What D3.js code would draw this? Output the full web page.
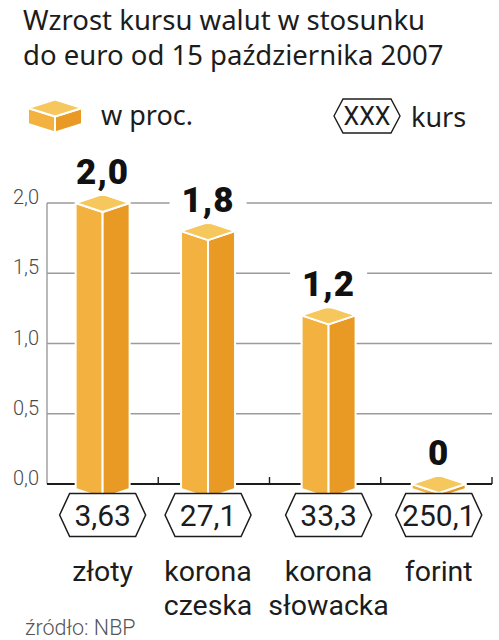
<!DOCTYPE html>
<html>
<head>
<meta charset="utf-8">
<script src="https://cdn.jsdelivr.net/npm/d3@7"></script>
<style>
  html, body { margin: 0; padding: 0; background: #fff; }
  svg { display: block; }
</style>
</head>
<body>
<svg width="499" height="640"></svg>
<script>
// data
const categories = ['złoty', 'korona czeska', 'korona słowacka', 'forint'];
const changes = [2.0, 1.8, 1.2, 0];          // wzrost w proc.
const rates = [3.63, 27.1, 33.3, 250.1];     // kurs do euro
const yTicks = [0, 0.5, 1.0, 1.5, 2.0];
const titleLines = ['Wzrost kursu walut w stosunku', 'do euro od 15 października 2007'];
const source = 'źródło: NBP';

const TOP_COLOR = '#f6c75c';
const LEFT_COLOR = '#f3b23f';
const RIGHT_COLOR = '#e99a25';
const GRID_COLOR = '#9b9b9b';
const INK = '#1c1c1c';
const SANS = "'Noto Sans', 'Open Sans', sans-serif";
const NUM = "Roboto, 'Liberation Sans', sans-serif";

const BAR_HALF = 27;
const FACE_HALF_H = 9;
const LABEL_SIZE = 28.5;
const LABEL_LEAD = 33.5;
const LABEL_GAP = 16;

const svg = d3.select('svg');

const x = d3.scaleBand()
  .domain(categories)
  .range([47, 492])
  .padding(0);

const y = d3.scaleLinear()
  .domain([0, 2])
  .range([484, 203]);

const comma = v => String(v).replace('.', ',');
const fmtChange = v => v === 0 ? '0' : d3.format('.1f')(v).replace('.', ',');

// measure category names, then nudge columns apart so names don't collide
const probe = svg.append('text')
  .attr('font-family', NUM).attr('font-size', LABEL_SIZE);
const nameWidth = categories.map(c => d3.max(c.split(' '), w => {
  probe.text(w);
  return probe.node().getComputedTextLength();
}));
probe.remove();

const centers = categories.map(c => x(c) + x.bandwidth() / 2);
for (let k = 0; k < 60; k++) {
  for (let i = 0; i < centers.length - 1; i++) {
    const gap = (centers[i + 1] - nameWidth[i + 1] / 2) - (centers[i] + nameWidth[i] / 2);
    if (gap < LABEL_GAP) {
      const d = (LABEL_GAP - gap) / 2;
      centers[i] -= d;
      centers[i + 1] += d;
    }
  }
}
const cx = c => centers[categories.indexOf(c)];

// iso box: top face centred at yTop, front faces down to yBot
function drawBox(g, c, yTop, yBot, hw, hh) {
  const faces = [
    { fill: LEFT_COLOR, pts: [[c - hw, yTop], [c, yTop + hh], [c, yBot + hh], [c - hw, yBot]] },
    { fill: RIGHT_COLOR, pts: [[c + hw, yTop], [c, yTop + hh], [c, yBot + hh], [c + hw, yBot]] },
    { fill: TOP_COLOR, pts: [[c - hw, yTop], [c, yTop - hh], [c + hw, yTop], [c, yTop + hh]] }
  ];
  g.selectAll(null)
    .data(faces)
    .enter().append('polygon')
      .attr('points', d => d.pts.map(p => p.join(',')).join(' '))
      .attr('fill', d => d.fill)
      .attr('stroke', '#fff')
      .attr('stroke-width', 2)
      .attr('stroke-linejoin', 'round');
}

function hexPath(c, yc, w, h, tip) {
  const l = c - w / 2, r = c + w / 2;
  return 'M' + l + ',' + yc +
    'L' + (l + tip) + ',' + (yc - h / 2) +
    'L' + (r - tip) + ',' + (yc - h / 2) +
    'L' + r + ',' + yc +
    'L' + (r - tip) + ',' + (yc + h / 2) +
    'L' + (l + tip) + ',' + (yc + h / 2) + 'Z';
}

// title
svg.append('g')
  .selectAll('text')
  .data(titleLines)
  .enter().append('text')
    .attr('x', 23)
    .attr('y', (d, i) => 30 + i * 35)
    .attr('font-family', SANS)
    .attr('font-size', 27.5)
    .attr('fill', INK)
    .text(d => d);

// legend
const legend = svg.append('g');
drawBox(legend, 55, 108, 124, 27, 8.5);
legend.append('text')
  .attr('x', 101).attr('y', 125)
  .attr('font-family', SANS).attr('font-size', 27).attr('fill', INK)
  .text('w proc.');
legend.append('path')
  .attr('d', hexPath(367, 116, 66, 34, 9))
  .attr('fill', '#fff').attr('stroke', INK).attr('stroke-width', 1.4);
legend.append('text')
  .attr('x', 367).attr('y', 125)
  .attr('text-anchor', 'middle')
  .attr('font-family', NUM).attr('font-size', 25).attr('fill', INK)
  .text('XXX');
legend.append('text')
  .attr('x', 411).attr('y', 127)
  .attr('font-family', SANS).attr('font-size', 27).attr('fill', INK)
  .text('kurs');

// grid
svg.append('g')
  .selectAll('line')
  .data(yTicks.filter(t => t > 0))
  .enter().append('line')
    .attr('x1', 47).attr('x2', 492)
    .attr('y1', d => y(d)).attr('y2', d => y(d))
    .attr('stroke', GRID_COLOR).attr('stroke-width', 1.4);

svg.append('line')
  .attr('x1', 47).attr('x2', 47)
  .attr('y1', y(2)).attr('y2', y(0))
  .attr('stroke', GRID_COLOR).attr('stroke-width', 1.4);

// baseline with band ticks
const base = svg.append('g');
base.append('line')
  .attr('x1', 47).attr('x2', 492)
  .attr('y1', y(0)).attr('y2', y(0))
  .attr('stroke', INK).attr('stroke-width', 1.8);
base.selectAll('line.tick')
  .data(categories)
  .enter().append('line')
    .attr('class', 'tick')
    .attr('x1', d => x(d) + x.bandwidth()).attr('x2', d => x(d) + x.bandwidth())
    .attr('y1', y(0) - 7).attr('y2', y(0))
    .attr('stroke', INK).attr('stroke-width', 1.4);

// tick labels
svg.append('g')
  .selectAll('text')
  .data(yTicks)
  .enter().append('text')
    .attr('x', 39)
    .attr('y', d => y(d) + 1)
    .attr('text-anchor', 'end')
    .attr('font-family', NUM).attr('font-weight', 300)
    .attr('font-size', 20).attr('fill', '#4a4a4a')
    .text(d => d3.format('.1f')(d).replace('.', ','));

// bars
const bars = svg.append('g');
categories.forEach((c, i) => {
  drawBox(bars, cx(c), y(changes[i]), y(0) + 5, BAR_HALF, FACE_HALF_H);
});

// value labels, white patch cuts the grid behind them
const vals = svg.append('g')
  .selectAll('g')
  .data(categories)
  .enter().append('g');
const valText = vals.append('text')
  .attr('x', c => cx(c))
  .attr('y', (c, i) => y(changes[i]) - 19)
  .attr('text-anchor', 'middle')
  .attr('font-family', NUM).attr('font-weight', 900)
  .attr('font-size', 35).attr('letter-spacing', 1)
  .attr('fill', '#111')
  .text((c, i) => fmtChange(changes[i]));
valText.each(function() {
  const b = this.getBBox();
  d3.select(this.parentNode).insert('rect', 'text')
    .attr('x', b.x - 12).attr('y', b.y + 3)
    .attr('width', b.width + 24).attr('height', b.height)
    .attr('fill', '#fff');
});

// rate hexagons
const hex = svg.append('g')
  .selectAll('g')
  .data(categories)
  .enter().append('g');
hex.append('path')
  .attr('d', c => hexPath(cx(c), 515, 86, 43, 10))
  .attr('fill', '#fff').attr('stroke', INK).attr('stroke-width', 1.5);
hex.append('text')
  .attr('x', c => cx(c))
  .attr('y', 526)
  .attr('text-anchor', 'middle')
  .attr('font-family', NUM).attr('font-size', 30).attr('fill', INK)
  .text((c, i) => comma(rates[i]));

// category names, one text per line
const nameLines = categories.flatMap(c =>
  c.split(' ').map((w, i) => ({ cat: c, word: w, line: i })));
svg.append('g')
  .selectAll('text')
  .data(nameLines)
  .enter().append('text')
    .attr('x', d => cx(d.cat))
    .attr('y', d => 581 + d.line * LABEL_LEAD)
    .attr('text-anchor', 'middle')
    .attr('font-family', NUM).attr('font-size', LABEL_SIZE).attr('fill', INK)
    .text(d => d.word);

// source
svg.append('text')
  .attr('x', 25).attr('y', 635)
  .attr('font-family', NUM).attr('font-weight', 300)
  .attr('font-size', 21.5).attr('fill', '#555')
  .text(source);
</script>
</body>
</html>
